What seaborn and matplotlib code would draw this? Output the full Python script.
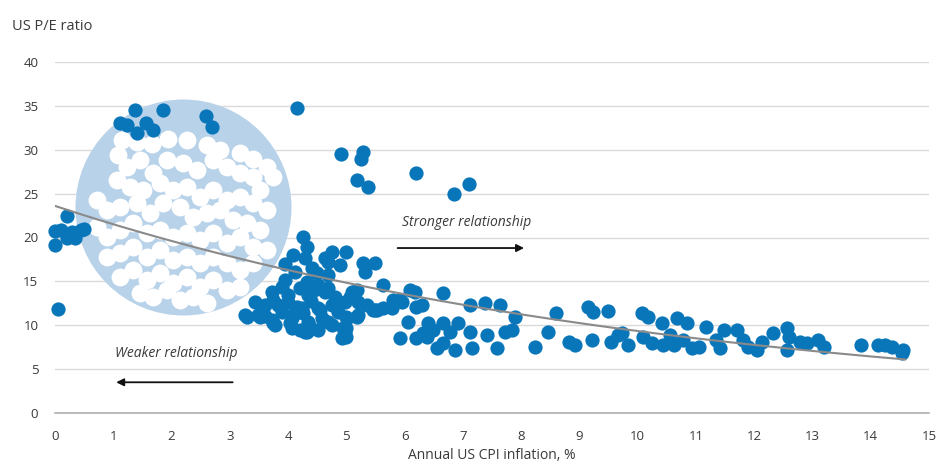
import numpy as np
import pandas as pd
import matplotlib
matplotlib.use("Agg")
import matplotlib.pyplot as plt
import seaborn as sns

# Annual US CPI inflation (%) and US P/E ratio observations
cpi = [
    0.0, 0.0, 0.1, 0.2, 0.2, 0.3, 0.35, 0.45, 0.5, 0.05,
    1.11, 1.37, 1.23, 1.4, 1.57, 1.68, 1.85, 2.6, 2.7, 4.15,
    4.9, 5.28, 5.26, 5.18, 5.37, 6.2, 6.85, 7.1,
    4.25, 4.32, 4.08, 4.29, 4.63, 4.41, 4.12, 4.68, 4.51, 3.89,
    3.72, 4.0, 4.34, 4.63, 3.6, 3.83, 4.24, 4.51, 4.75, 3.26,
    3.48, 3.72, 4.07, 4.34, 4.58, 3.77, 4.07, 4.29, 4.51, 4.75,
    3.43, 3.95,
    4.75, 5.0, 4.68, 4.89, 5.28, 5.49, 5.32, 4.68, 5.09, 5.2,
    4.97, 5.63, 5.49, 5.78, 5.95, 6.17, 6.3, 6.05, 4.85, 5.02,
    5.2, 4.97, 4.92, 5.92, 6.2, 4.68,
    4.5, 4.32, 5.18, 5.06, 5.8, 6.09, 6.2, 3.57, 3.74, 4.15,
    4.25, 4.55, 5.0, 5.18, 5.45, 5.63, 3.29, 3.52, 3.74, 4.03,
    4.2, 4.37, 4.6, 4.94, 5.0, 4.32, 5.0, 5.52, 5.92, 6.66,
    3.9, 3.6, 4.1, 4.4, 4.0, 3.95, 4.45, 4.8, 5.35, 4.2,
    7.12, 7.38, 7.63, 7.89, 8.59, 9.14, 9.23, 9.49,
    6.4, 6.66, 6.91, 6.31, 6.48, 6.78, 7.12, 7.72, 7.84, 8.46,
    7.41, 6.55, 6.86, 7.15, 7.58, 8.23, 8.83, 8.92, 9.21, 9.55,
    9.66, 6.38, 6.66,
    10.07, 10.17, 10.41, 10.67, 10.84, 11.18, 9.73, 9.83, 10.09, 10.24,
    10.43, 10.55, 10.63, 10.77, 10.93, 11.06, 11.35, 11.41, 11.49, 11.7,
    11.8, 11.89, 12.04, 12.14, 12.32, 12.57, 12.6, 12.57,
    12.78, 12.9, 13.09, 13.2, 13.84, 14.12, 14.24, 14.37, 14.55, 14.53,
]
pe = [
    20.7, 19.2, 20.9, 22.4, 20.0, 20.6, 19.9, 20.8, 21.0, 11.9,
    33.1, 34.5, 32.8, 31.9, 33.1, 32.2, 34.5, 33.9, 32.6, 34.8,
    29.5, 29.7, 29.0, 26.5, 25.8, 27.3, 25.0, 26.1,
    20.1, 18.9, 18.0, 17.7, 17.7, 16.5, 16.1, 15.7, 14.6, 14.4,
    13.8, 13.4, 13.4, 13.8, 12.3, 12.3, 12.0, 12.0, 12.3, 11.2,
    11.2, 10.6, 10.8, 10.4, 10.8, 10.0, 9.7, 9.2, 9.5, 10.0,
    12.6, 17.0,
    18.3, 18.3, 17.2, 16.9, 17.1, 17.1, 16.1, 14.2, 13.8, 12.6,
    12.6, 14.6, 11.7, 12.0, 12.6, 13.8, 12.3, 10.4, 11.5, 10.8,
    11.2, 9.2, 8.5, 8.5, 8.5, 10.4,
    15.9, 14.9, 14.0, 13.2, 12.9, 14.0, 12.1, 12.1, 12.9, 12.1,
    11.4, 11.7, 10.9, 10.9, 11.7, 12.0, 10.9, 10.9, 10.2, 10.2,
    9.5, 9.8, 10.6, 9.7, 8.7, 9.2, 9.7, 11.7, 12.9, 13.7,
    11.5, 11.0, 11.3, 12.8, 12.6, 15.2, 14.0, 13.2, 12.3, 14.2,
    12.3, 12.5, 12.3, 10.9, 11.4, 12.1, 11.5, 11.6,
    10.2, 10.2, 10.2, 9.1, 9.5, 9.2, 9.2, 9.2, 9.5, 9.2,
    8.9, 7.4, 7.2, 7.4, 7.4, 7.5, 8.1, 7.7, 8.3, 8.1,
    8.9, 8.7, 8.0,
    11.4, 10.9, 10.2, 10.8, 10.2, 9.8, 9.1, 7.7, 8.7, 8.0,
    7.7, 8.9, 7.7, 8.3, 7.4, 7.5, 8.3, 7.4, 9.5, 9.5,
    8.3, 7.5, 7.2, 8.1, 9.1, 9.7, 8.7, 7.2,
    8.1, 8.0, 8.3, 7.5, 7.7, 7.7, 7.7, 7.5, 7.2, 6.8,
]

# Exponential trend: pe = a * exp(-b * cpi)
trend_a = 23.6
trend_b = 0.0927
trend_span = [0.0, 14.6]

# Magnifier disc (centre in data units) and its mottled white specks
disc_center = (2.2, 23.5)
speck_x = [
    1.144, 1.401, 1.658, 1.944, 2.259, 2.602, 2.83, 3.174, 3.402, 3.631,
    3.745, 1.087, 1.23, 1.458, 1.687, 1.916, 2.2, 2.43, 2.716, 2.945,
    3.174, 3.402, 3.517, 1.058, 1.287, 1.515, 1.801, 2.03, 2.259, 2.487,
    2.716, 2.945, 3.174, 3.402, 3.631, 0.715, 0.887, 1.115, 1.401, 1.63,
    1.858, 2.144, 2.373, 2.602, 2.83, 3.059, 3.288, 3.517, 0.715, 0.887,
    1.115, 1.344, 1.572, 1.801, 2.03, 2.259, 2.487, 2.716, 2.945, 3.174,
    3.402, 3.631, 0.887, 1.115, 1.344, 1.572, 1.801, 2.03, 2.259, 2.487,
    2.716, 2.945, 3.174, 3.402, 1.115, 1.344, 1.572, 1.801, 2.03, 2.259,
    2.487, 2.716, 2.945, 3.174, 1.458, 1.687, 1.916, 2.144, 2.373, 2.602,
]
speck_y = [
    31.1, 30.9, 30.7, 31.28, 31.1, 30.5, 29.96, 29.58, 29.0, 28.06,
    26.92, 29.39, 28.06, 28.82, 27.3, 28.82, 28.44, 27.68, 28.82, 28.06,
    27.3, 26.92, 25.4, 26.54, 25.78, 25.4, 26.16, 25.4, 25.78, 24.64,
    25.4, 24.26, 24.64, 23.88, 23.12, 24.26, 23.12, 23.5, 23.88, 22.74,
    23.88, 23.5, 22.36, 22.74, 23.12, 21.98, 21.6, 20.84, 21.22, 20.09,
    20.84, 21.6, 20.47, 20.84, 20.09, 20.47, 19.71, 20.47, 19.33, 20.09,
    18.95, 18.57, 17.81, 18.19, 18.95, 17.81, 18.57, 17.43, 17.81, 17.05,
    17.81, 17.05, 16.29, 17.05, 15.53, 16.29, 15.15, 15.91, 14.77, 15.53,
    14.39, 15.15, 14.01, 14.39, 13.63, 13.25, 14.01, 12.87, 13.25, 12.49,
]

x_ticks = list(range(0, 16))
y_ticks = list(range(0, 41, 5))

DOT = "#0A76BA"
DISC = "#B8D2E9"
TEXT = "#3A3A3A"

sns.set_theme(style="white")
plt.rcParams["font.family"] = ["Open Sans", "DejaVu Sans"]

fig = plt.figure(figsize=(9.51, 4.72), dpi=100)
ax = fig.add_axes([55 / 951, 1 - 413 / 472, (929 - 55) / 951, (413 - 62) / 472])

# gridlines
ax.set_yticks(y_ticks)
ax.set_xticks(x_ticks)
ax.yaxis.grid(True, color="#DADADA", lw=1.0)
ax.xaxis.grid(False)
ax.set_axisbelow(True)
for side in ["left", "right", "top"]:
    ax.spines[side].set_visible(False)
ax.spines["bottom"].set_color("#A8A8A8")
ax.spines["bottom"].set_linewidth(1.1)

# magnifier disc with specks
disc_pt = 216 / 100 * 72  # diameter in points
ax.scatter([disc_center[0]], [disc_center[1]], s=disc_pt ** 2, color=DISC,
           linewidth=0, zorder=1)
specks = pd.DataFrame({"x": speck_x, "y": speck_y})
sns.scatterplot(data=specks, x="x", y="y", s=165, color="white", linewidth=0,
                ax=ax, zorder=2, legend=False)

# observations
df = pd.DataFrame({"cpi": cpi, "pe": pe})
sns.scatterplot(data=df, x="cpi", y="pe", s=105, color=DOT, linewidth=0,
                ax=ax, zorder=3, legend=False, clip_on=False)

# trend line
tx = np.linspace(trend_span[0], trend_span[1], 200)
trend = pd.DataFrame({"x": tx, "y": trend_a * np.exp(-trend_b * tx)})
sns.lineplot(data=trend, x="x", y="y", color="#8A8A8A", lw=1.5, ax=ax, zorder=4)

ax.set_xlim(0, 15)
ax.set_ylim(0, 40)
ax.set_xlabel("Annual US CPI inflation, %", fontsize=10, color=TEXT, labelpad=4)
ax.set_ylabel("")
ax.tick_params(axis="both", length=0, labelsize=9.5, labelcolor=TEXT)
ax.tick_params(axis="x", pad=12)
ax.tick_params(axis="y", pad=12)

fig.text(12 / 951, 1 - 27 / 472, "US P/E ratio", fontsize=10.5, color=TEXT,
         va="center", ha="left")

# direction annotations
ax.text(7.07, 21.75, "Stronger relationship", style="italic", fontsize=10,
        color=TEXT, ha="center", va="center", zorder=5)
ax.annotate("", xy=(8.05, 18.8), xytext=(5.88, 18.8),
            arrowprops=dict(arrowstyle="-|>", color="#111111", lw=1.3,
                            mutation_scale=11, shrinkA=0, shrinkB=0), zorder=5)
ax.text(2.08, 6.8, "Weaker relationship", style="italic", fontsize=10,
        color=TEXT, ha="center", va="center", zorder=5)
ax.annotate("", xy=(1.05, 3.5), xytext=(3.05, 3.5),
            arrowprops=dict(arrowstyle="-|>", color="#111111", lw=1.3,
                            mutation_scale=11, shrinkA=0, shrinkB=0), zorder=5)

fig.savefig("out.png", dpi=100)
